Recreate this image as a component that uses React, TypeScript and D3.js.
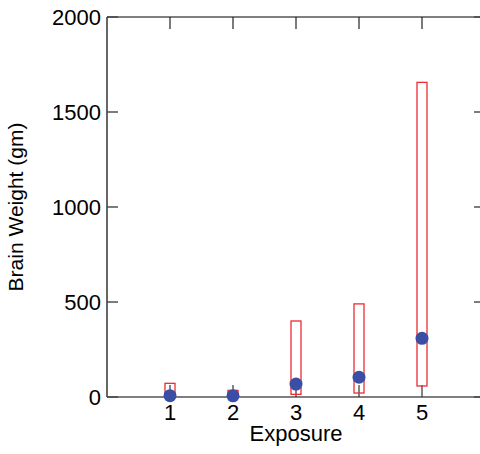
import React from "react";
import * as d3 from "d3";

const categories = [1, 2, 3, 4, 5];
const boxLow = [10, 2, 14, 21, 58];
const boxHigh = [72, 35, 400, 490, 1656];
const pointValues = [7, 6, 68, 104, 309];
const yTicks = [0, 500, 1000, 1500, 2000];

const W = 480;
const H = 454;

export default function App() {
  const x = d3.scaleLinear().domain([0, 6]).range([107, 485]);
  const y = d3.scaleLinear().domain([0, 2000]).range([397, 17]);
  const font = "Arial, 'Liberation Sans', Helvetica, sans-serif";
  const boxW = 10;
  const tickLen = 11;
  const fs = 22;
  return (
    <svg
      width={W}
      height={H}
      style={{ position: "absolute", left: 0, top: 0, background: "#fff" }}
      fontFamily={font}
    >
      {/* frame */}
      <line x1={x(0)} x2={W} y1={y(2000)} y2={y(2000)} stroke="#000" strokeWidth={1.2} />
      <line x1={x(0)} x2={x(0)} y1={y(0)} y2={y(2000)} stroke="#000" strokeWidth={1.2} />
      <line x1={x(0)} x2={W} y1={y(0)} y2={y(0)} stroke="#555" strokeWidth={1.6} />
      {/* y ticks */}
      {yTicks.map((t) => (
        <g key={"y" + t}>
          <line x1={x(0)} x2={x(0) + tickLen} y1={y(t)} y2={y(t)} stroke="#444" strokeWidth={1.4} />
          <line x1={x(6)} x2={x(6) - tickLen} y1={y(t)} y2={y(t)} stroke="#444" strokeWidth={1.4} />
          <text x={101} y={y(t)} dy="0.35em" textAnchor="end" fontSize={fs} fill="#000">
            {t}
          </text>
        </g>
      ))}
      {/* x ticks */}
      {categories.map((c) => (
        <g key={"x" + c}>
          <line x1={x(c)} x2={x(c)} y1={y(2000)} y2={y(2000) + 12} stroke="#222" strokeWidth={1.2} />
          <line x1={x(c)} x2={x(c)} y1={y(0)} y2={y(0) - 12} stroke="#333" strokeWidth={1.2} />
          <text x={x(c)} y={420} textAnchor="middle" fontSize={fs} fill="#000">
            {c}
          </text>
        </g>
      ))}
      {/* boxes */}
      {categories.map((c, i) => (
        <rect
          key={"b" + c}
          x={x(c) - boxW / 2}
          y={y(boxHigh[i])}
          width={boxW}
          height={y(boxLow[i]) - y(boxHigh[i])}
          fill="none"
          stroke="#ec2c34"
          strokeWidth={1.3}
        />
      ))}
      {/* points */}
      {categories.map((c, i) => (
        <circle key={"p" + c} cx={x(c)} cy={y(pointValues[i])} r={6.5} fill="#3a4ea6" />
      ))}
      {/* axis titles */}
      <text x={x(3)} y={441} textAnchor="middle" fontSize={fs} fill="#000">
        Exposure
      </text>
      <text
        transform={`translate(23, ${(y(0) + y(2000)) / 2}) rotate(-90)`}
        textAnchor="middle"
        fontSize={21}
        fill="#000"
      >
        Brain Weight (gm)
      </text>
    </svg>
  );
}
